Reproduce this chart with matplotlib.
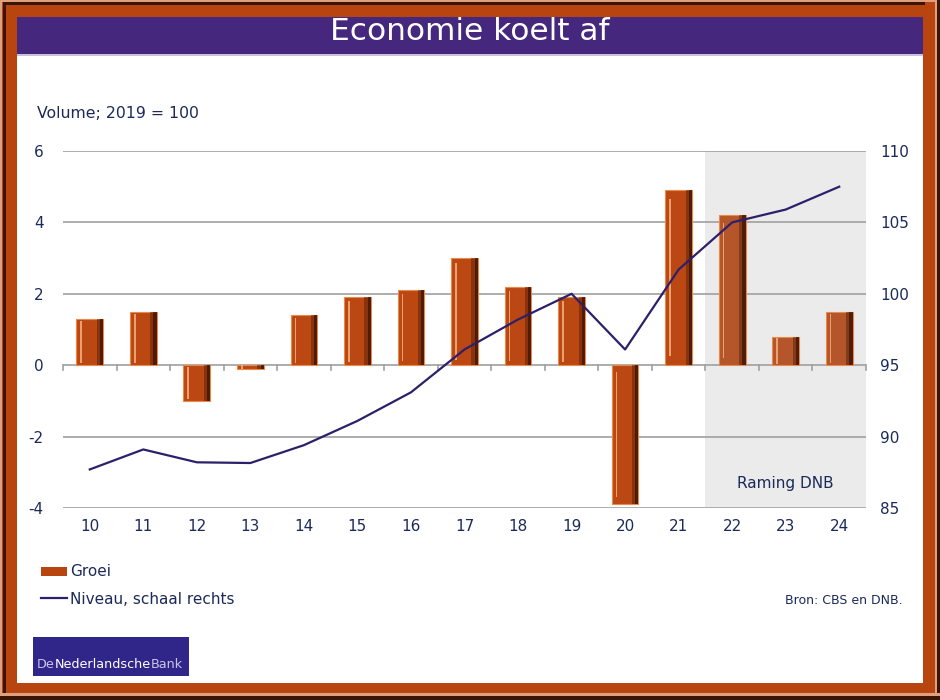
import matplotlib
matplotlib.use("Agg")
import matplotlib.pyplot as plt
from matplotlib.patches import Rectangle
import numpy as np

years = ["10", "11", "12", "13", "14", "15", "16", "17", "18", "19", "20", "21", "22", "23", "24"]
groei = [1.3, 1.5, -1.0, -0.1, 1.4, 1.9, 2.1, 3.0, 2.2, 1.9, -3.9, 4.9, 4.2, 0.8, 1.5]
niveau = [87.7, 89.1, 88.2, 88.15, 89.4, 91.1, 93.1, 96.1, 98.2, 100.0, 96.1, 101.7, 105.0, 105.9, 107.5]
forecast_start = 12  # index of first forecast year (22)
left_ticks = [-4, -2, 0, 2, 4, 6]
right_ticks = [85, 90, 95, 100, 105, 110]

W, H = 940, 700
fig = plt.figure(figsize=(W / 100, H / 100), dpi=100)
fig.patch.set_facecolor("#b8440f")

def px_rect(x0, y0, x1, y1, color, z=-5):
    fig.patches.append(Rectangle((x0 / W, 1 - y1 / H), (x1 - x0) / W, (y1 - y0) / H,
                                 transform=fig.transFigure, facecolor=color,
                                 edgecolor="none", zorder=z))

# frame details
px_rect(0, 0, W, 2, "#e0a080")
px_rect(0, 0, 2, H, "#e0a080")
px_rect(3, 2, 925, 5, "#3a1405")
px_rect(3, 2, 6, 695, "#3a1405")
px_rect(935, 0, 937, H, "#e0a080")
px_rect(937, 0, W, H, "#3a1405")
px_rect(0, 693, W, 696, "#e0a080")
px_rect(0, 696, W, H, "#3a1405")
# white area
px_rect(17, 17, 923, 683, "white", -4)
# title bar
px_rect(17, 17, 923, 54, "#45287e", -3)
px_rect(17, 54, 923, 56, "#c8c0dc", -3)

txt = "#1c2a5a"
fig.text(470 / W, 1 - 31 / H, "Economie koelt af", color="white", fontsize=22.5,
         ha="center", va="center", zorder=3)
fig.text(37 / W, 1 - 113 / H, "Volume; 2019 = 100", color=txt, fontsize=11.3,
         ha="left", va="center")

ax = fig.add_axes([63 / W, 1 - 508 / H, (866 - 63) / W, (508 - 151) / H])
ax.set_zorder(1)
ax.set_facecolor("none")
x = np.arange(len(years))
ax.set_xlim(-0.5, len(years) - 0.5)
ax.set_ylim(left_ticks[0], left_ticks[-1])
ax.axvspan(forecast_start - 0.5, len(years) - 0.5, color="#ebebeb", zorder=0, lw=0)

for t in left_ticks:
    ax.axhline(t, color="#a0a0a0", lw=1.2, zorder=1)

g = np.array(groei)
colors = ["#bb4812" if i < forecast_start else "#b5552a" for i in range(len(years))]
bw = 0.5
ax.bar(x, g, width=bw, color=colors, edgecolor="#e88a4a", linewidth=0.8, zorder=3)
# bevel: dark right side
ax.bar(x + bw / 2 - 0.06, g, width=0.12, color="#4a1a05", alpha=0.45, linewidth=0, zorder=4)
ax.bar(x + bw / 2 - 0.03, g, width=0.06, color="#2a0c02", alpha=0.6, linewidth=0, zorder=4)
# light left highlight
ax.bar(x - bw / 2 + 0.09, g * 0.9, bottom=g * 0.05, width=0.03, color="#f5b080",
       alpha=0.85, linewidth=0, zorder=4)

# category tick marks on zero line
for b in np.arange(-0.5, len(years), 1.0):
    ax.plot([b, b], [0, -0.13], color="#a0a0a0", lw=1.2, zorder=2, clip_on=False)

for s in ax.spines.values():
    s.set_visible(False)
ax.set_yticks(left_ticks)
ax.set_yticklabels([str(t) for t in left_ticks])
ax.tick_params(axis="y", length=0, pad=14, labelsize=11, labelcolor=txt)
ax.set_xticks(x)
ax.set_xticklabels(years)
ax.tick_params(axis="x", length=0, pad=8, labelsize=11, labelcolor=txt)

ax.text((forecast_start - 0.5 + len(years) - 0.5) / 2, -3.3, "Raming DNB",
        ha="center", va="center", color=txt, fontsize=11, zorder=5)

ax2 = ax.twinx()
ax2.set_zorder(2)
ax2.set_facecolor("none")
ax2.set_ylim(right_ticks[0], right_ticks[-1])
ax2.set_yticks(right_ticks)
ax2.set_yticklabels([str(t) for t in right_ticks])
ax2.tick_params(axis="y", length=0, pad=10, labelsize=11, labelcolor=txt)
for s in ax2.spines.values():
    s.set_visible(False)
ax2.plot(x, niveau, color="#2e1f6b", lw=1.6, zorder=5)

# legend (manual, figure coords)
px_rect(41, 567, 67, 576, "#b8440f", 2)
fig.text(70 / W, 1 - 572 / H, "Groei", color=txt, fontsize=11, ha="left", va="center")
fig.lines.append(plt.Line2D([41 / W, 67 / W], [1 - 598 / H, 1 - 598 / H],
                            transform=fig.transFigure, color="#2e1f6b", lw=1.6))
fig.text(70 / W, 1 - 599 / H, "Niveau, schaal rechts", color=txt, fontsize=11,
         ha="left", va="center")
fig.text(903 / W, 1 - 600 / H, "Bron: CBS en DNB.", color=txt, fontsize=9,
         ha="right", va="center")

# logo
px_rect(33, 637, 189, 676, "#30268a", 2)
renderer = fig.canvas.get_renderer()
xpos = 37
for part, col in [("De", "#c8c4e8"), ("Nederlandsche", "white"), ("Bank", "#c8c4e8")]:
    t = fig.text(xpos / W, 1 - 665 / H, part, color=col, fontsize=9.2, ha="left",
                 va="center", zorder=3)
    xpos += t.get_window_extent(renderer).width

fig.savefig("out.png", dpi=100, facecolor=fig.get_facecolor())
